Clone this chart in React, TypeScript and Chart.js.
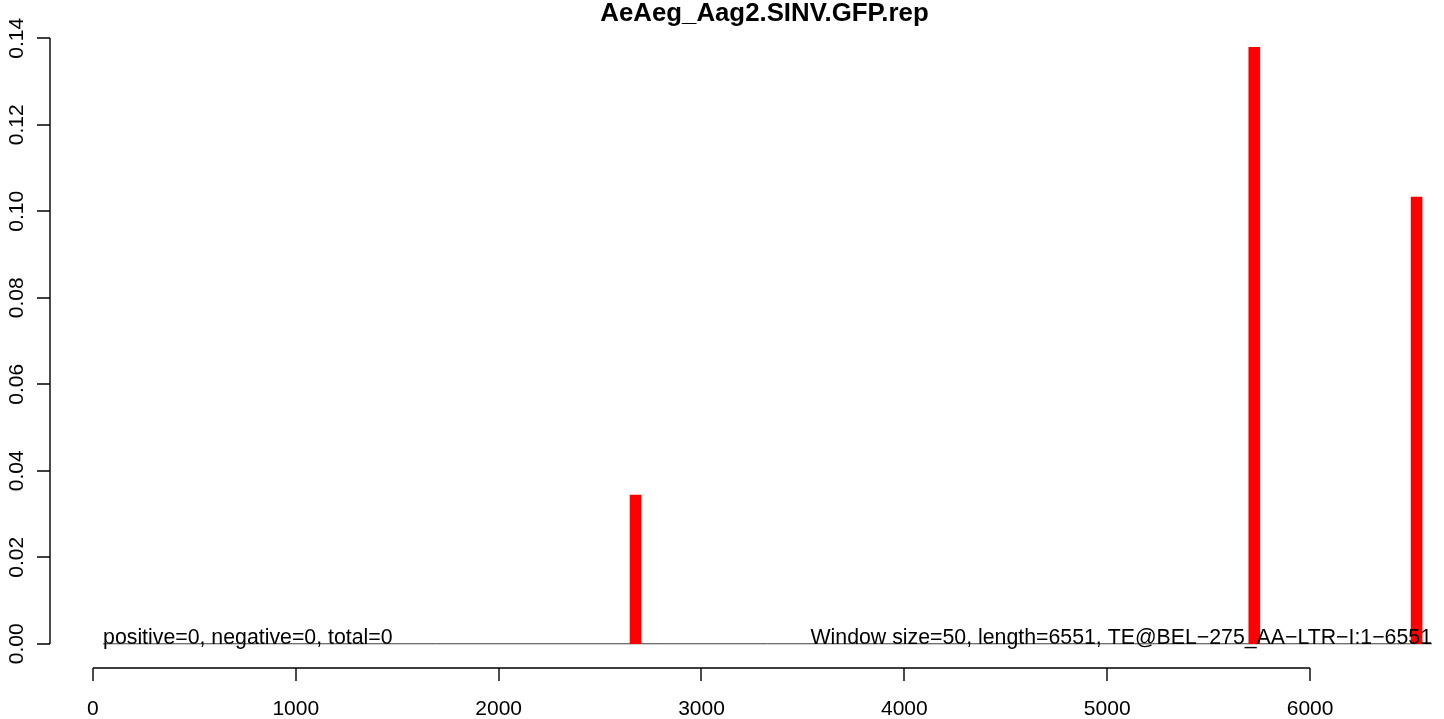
import React, { useEffect, useRef } from "react";
import { Chart, registerables } from "chart.js";

Chart.register(...registerables);

const chartTitle = "AeAeg_Aag2.SINV.GFP.rep";
const barPositions = [2675, 5725, 6525];
const barValues = [0.0344, 0.1379, 0.1033];
const xTicks = [0, 1000, 2000, 3000, 4000, 5000, 6000];
const yTicks = [0, 0.02, 0.04, 0.06, 0.08, 0.1, 0.12, 0.14];
const yTickLabels = ["0.00", "0.02", "0.04", "0.06", "0.08", "0.10", "0.12", "0.14"];
const baselineX = [50, 6601];
const leftNote = "positive=0, negative=0, total=0";
const rightNote = "Window size=50, length=6551, TE@BEL\u2212275_AA\u2212LTR\u2212I:1\u22126551";
const leftNoteX = 50;
const rightNoteX = 6601;

const FONT = '"Liberation Sans", Arial, Helvetica, sans-serif';

const rAxesPlugin = {
  id: "rAxes",
  afterDraw(chart: any) {
    const ctx = chart.ctx;
    const xs = chart.scales.x;
    const ys = chart.scales.y;
    const area = chart.chartArea;
    ctx.save();
    ctx.strokeStyle = "#000";
    ctx.fillStyle = "#000";
    ctx.lineWidth = 1.4;

    // x axis
    const axY = Math.round(area.bottom);
    const x0 = Math.round(xs.getPixelForValue(xTicks[0]));
    const x1 = Math.round(xs.getPixelForValue(xTicks[xTicks.length - 1]));
    ctx.beginPath();
    ctx.moveTo(x0, axY);
    ctx.lineTo(x1, axY);
    xTicks.forEach((t) => {
      const px = Math.round(xs.getPixelForValue(t));
      ctx.moveTo(px, axY);
      ctx.lineTo(px, axY + 13);
    });
    ctx.stroke();
    ctx.font = `21px ${FONT}`;
    ctx.textAlign = "center";
    ctx.textBaseline = "alphabetic";
    xTicks.forEach((t) => {
      ctx.fillText(String(t), xs.getPixelForValue(t), 715);
    });

    // y axis
    const axX = Math.round(area.left);
    const y0 = Math.round(ys.getPixelForValue(yTicks[0]));
    const y1 = Math.round(ys.getPixelForValue(yTicks[yTicks.length - 1]));
    ctx.beginPath();
    ctx.moveTo(axX, y0);
    ctx.lineTo(axX, y1);
    yTicks.forEach((t) => {
      const py = Math.round(ys.getPixelForValue(t));
      ctx.moveTo(axX, py);
      ctx.lineTo(axX - 13, py);
    });
    ctx.stroke();
    yTicks.forEach((t, i) => {
      const py = ys.getPixelForValue(t);
      ctx.save();
      ctx.translate(22.5, py);
      ctx.rotate(-Math.PI / 2);
      ctx.textAlign = "center";
      ctx.textBaseline = "alphabetic";
      ctx.fillText(yTickLabels[i], 0, 0);
      ctx.restore();
    });

    // notes
    ctx.font = `21.3px ${FONT}`;
    const zeroY = ys.getPixelForValue(0);
    ctx.textBaseline = "alphabetic";
    ctx.textAlign = "left";
    ctx.fillText(leftNote, xs.getPixelForValue(leftNoteX), zeroY);
    ctx.textAlign = "right";
    ctx.fillText(rightNote, xs.getPixelForValue(rightNoteX), zeroY);

    // title
    ctx.font = `bold 25.8px ${FONT}`;
    ctx.textAlign = "center";
    ctx.fillText(chartTitle, 764.5, 21);
    ctx.restore();
  },
};

export default function App() {
  const canvasRef = useRef<HTMLCanvasElement | null>(null);

  useEffect(() => {
    if (!canvasRef.current) return;
    const chart = new Chart(canvasRef.current, {
      type: "bar",
      data: {
        datasets: [
          {
            type: "bar",
            data: barPositions.map((x, i) => ({ x, y: barValues[i] })),
            backgroundColor: "#ff0000",
            borderWidth: 0,
            barThickness: 11,
            grouped: false,
            order: 1,
          } as any,
          {
            type: "line",
            data: baselineX.map((x) => ({ x, y: 0 })),
            borderColor: "#404040",
            borderWidth: 1,
            pointRadius: 0,
            order: 2,
          } as any,
        ],
      },
      options: {
        responsive: false,
        animation: false,
        devicePixelRatio: 1,
        layout: { padding: { left: 50, right: 12, top: 14, bottom: 51 } },
        scales: {
          x: { type: "linear", min: -211.5, max: 6601, display: false, offset: false },
          y: { type: "linear", min: -0.0056, max: 0.1456, display: false },
        },
        plugins: {
          legend: { display: false },
          tooltip: { enabled: false },
          title: { display: false },
        },
      },
      plugins: [rAxesPlugin],
    });
    return () => chart.destroy();
  }, []);

  return (
    <div style={{ position: "fixed", left: 0, top: 0, width: 1444, height: 719, background: "#fff" }}>
      <canvas ref={canvasRef} width={1444} height={719} style={{ display: "block" }} />
    </div>
  );
}
